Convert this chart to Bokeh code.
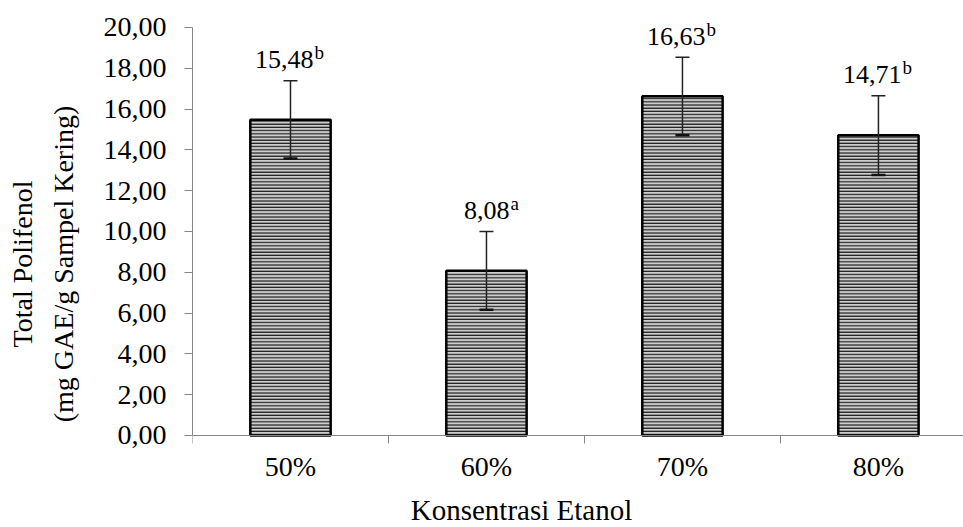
from bokeh.plotting import figure
from bokeh.models import ColumnDataSource, FixedTicker, Whisker, TeeHead, Range1d, Label
from bokeh.core.properties import value
from bokeh.embed import file_html
from bokeh.resources import INLINE

categories = ["50%", "60%", "70%", "80%"]
means = [15.48, 8.08, 16.63, 14.71]
sd = [1.91, 1.92, 1.91, 1.94]
letters = ["b", "a", "b", "b"]
value_labels = ["15,48", "8,08", "16,63", "14,71"]
y_ticks = [0, 2, 4, 6, 8, 10, 12, 14, 16, 18, 20]
y_tick_labels = ["0,00", "2,00", "4,00", "6,00", "8,00", "10,00",
                 "12,00", "14,00", "16,00", "18,00", "20,00"]
x_title = "Konsentrasi Etanol"
y_title = "Total Polifenol\n(mg GAE/g Sampel Kering)"

FONT = "Liberation Serif"
AXIS_GRAY = "#868686"

x = [i + 0.5 for i in range(len(categories))]
upper = [m + s for m, s in zip(means, sd)]
lower = [m - s for m, s in zip(means, sd)]

src = ColumnDataSource(dict(x=x, top=means, upper=upper, lower=lower,
                            lab=value_labels, sup=letters, cat=categories))

# frame spans the full height; 20.4 px per unit, value 0 at y=435 px
p = figure(width=963, height=527, output_backend="svg", toolbar_location=None,
           x_range=Range1d(0, 3.934), y_range=Range1d(-4.51, 21.32),
           min_border_left=192, min_border_right=0, min_border_top=0,
           min_border_bottom=0)
p.outline_line_color = None
p.grid.visible = False
p.background_fill_color = "white"
p.border_fill_color = "white"

p.vbar(x="x", top="top", bottom=0, width=0.41, source=src,
       fill_color="#cdcdcd", line_color="black", line_width=2.5,
       hatch_pattern="horizontal_line", hatch_color="#1a1a1a",
       hatch_weight=1.2, hatch_scale=3.2)

w = Whisker(base="x", upper="upper", lower="lower", source=src,
            line_color="#222222", line_width=1.5,
            upper_head=TeeHead(size=14, line_color="#222222", line_width=1.5),
            lower_head=TeeHead(size=14, line_color="#111111", line_width=2.5))
w.level = "overlay"
p.add_layout(w)

p.text(x="x", y="upper", text="lab", source=src, text_align="right",
       text_baseline="alphabetic", x_offset=23, y_offset=-21,
       text_font=value(FONT), text_font_size="26px", text_color="black")
p.text(x="x", y="upper", text="sup", source=src, text_align="left",
       text_baseline="alphabetic", x_offset=24, y_offset=-28,
       text_font=value(FONT), text_font_size="19px", text_color="black")

# y axis
ya = p.yaxis[0]
ya.ticker = FixedTicker(ticks=y_ticks, minor_ticks=[])
ya.bounds = (y_ticks[0], y_ticks[-1])
ya.major_label_overrides = {t: l for t, l in zip(y_ticks, y_tick_labels)}
ya.axis_label = y_title
ya.axis_label_text_font = FONT
ya.axis_label_text_font_size = "28px"
ya.axis_label_text_font_style = "normal"
ya.axis_label_text_color = "black"
ya.axis_label_text_line_height = 1.3
ya.axis_label_standoff = 22
ya.major_label_text_font = FONT
ya.major_label_text_font_size = "28px"
ya.major_label_text_color = "black"
ya.major_label_standoff = 18
ya.major_tick_in = 0
ya.major_tick_out = 8
ya.minor_tick_out = 0
ya.minor_tick_in = 0
ya.axis_line_color = AXIS_GRAY
ya.major_tick_line_color = AXIS_GRAY

# x axis, fixed at value 0
xa = p.xaxis[0]
xa.fixed_location = 0
xa.ticker = FixedTicker(ticks=x, minor_ticks=[0, 1, 2, 3, 4])
xa.major_label_overrides = {t: c for t, c in zip(x, categories)}
xa.major_label_text_font = FONT
xa.major_label_text_font_size = "28px"
xa.major_label_text_color = "black"
xa.major_label_standoff = 8
xa.major_tick_in = 0
xa.major_tick_out = 0
xa.minor_tick_in = 0
xa.minor_tick_out = 8
xa.axis_line_color = AXIS_GRAY
xa.minor_tick_line_color = AXIS_GRAY

title = Label(x=329, y=18, x_units="screen", y_units="screen", text=x_title,
              text_align="center", text_baseline="alphabetic",
              text_font=FONT, text_font_size="29px", text_color="black")
p.add_layout(title)

open("out.html", "w").write(file_html(p, INLINE))
